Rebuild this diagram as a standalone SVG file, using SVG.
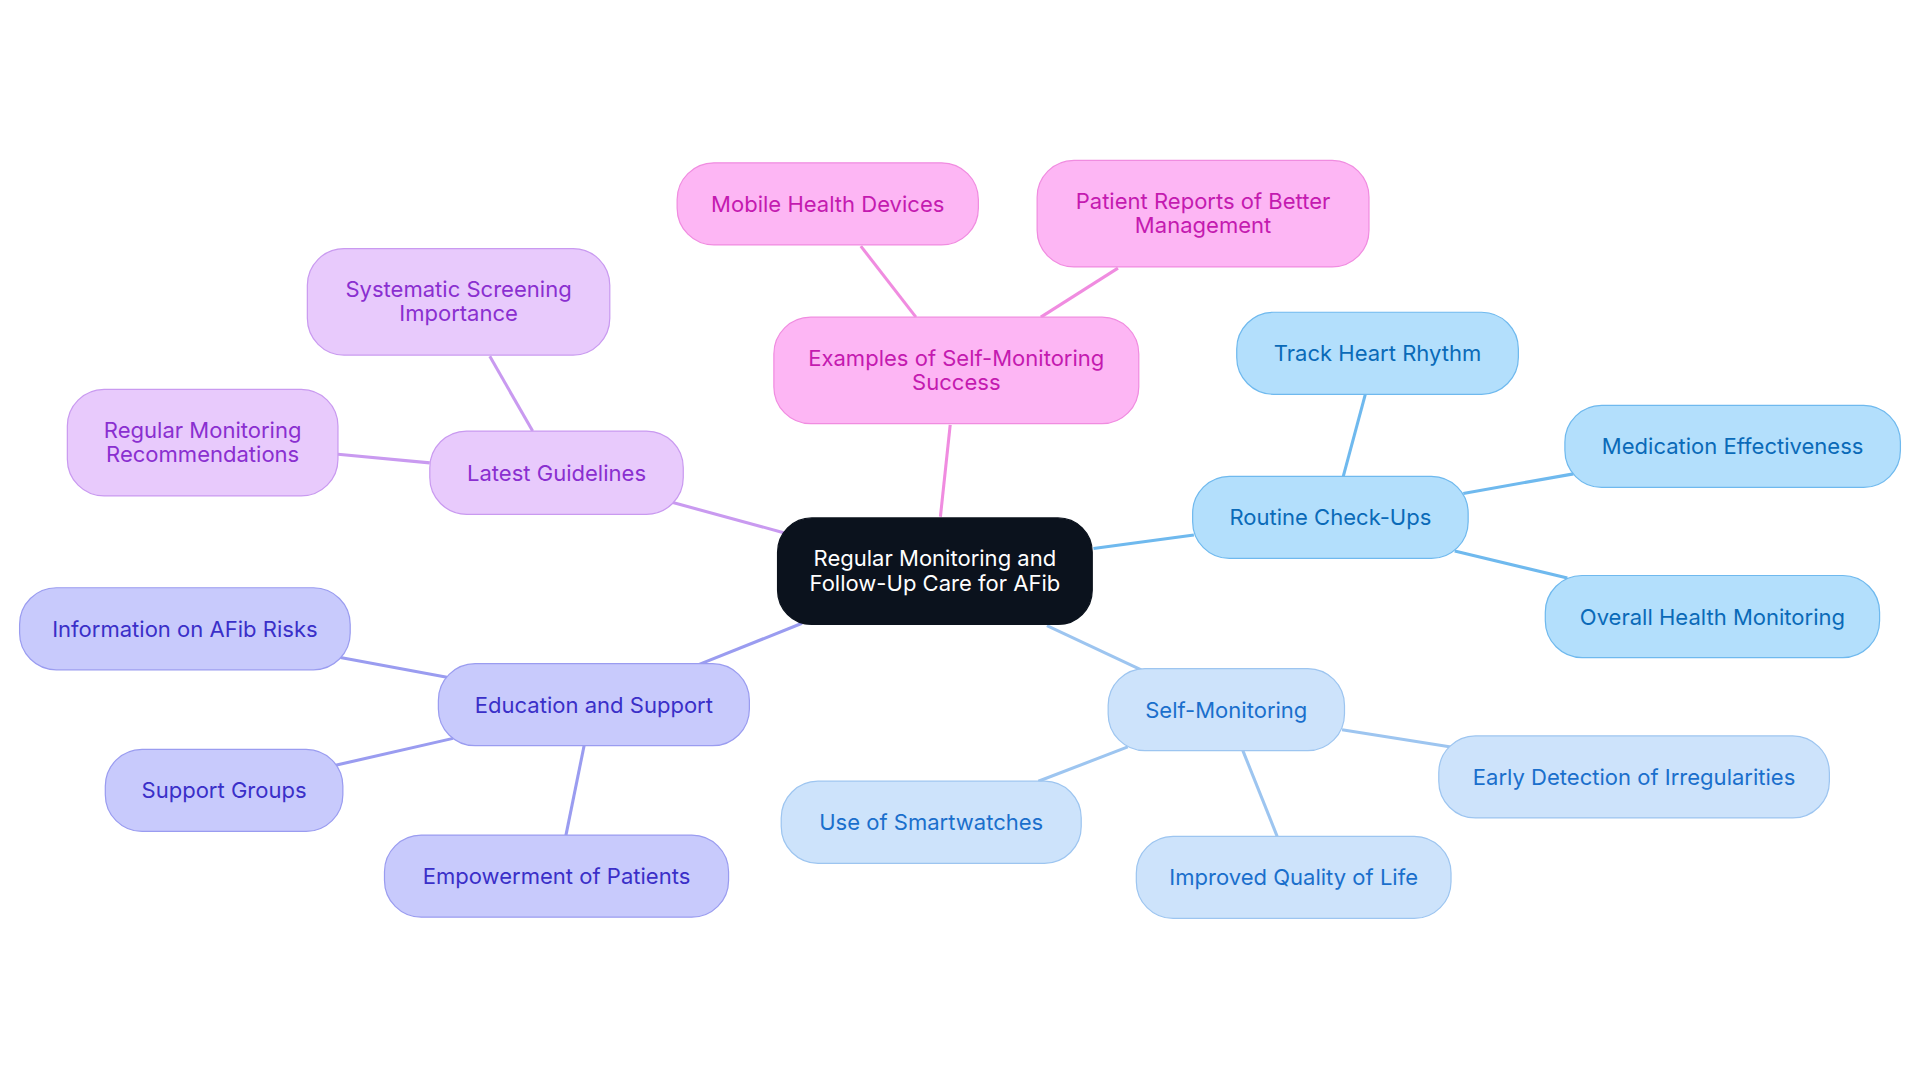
<svg xmlns="http://www.w3.org/2000/svg" width="1920" height="1083" viewBox="0 0 1920 1083">
<style>
text{font-family:Inter,"Noto Sans",sans-serif;font-size:18px;text-anchor:middle;dominant-baseline:central}
.c rect{fill:#0b121d;stroke:#0b121d}.c text{fill:#fff}
.p rect{fill:#fdb6f4;stroke:#f08ce0}.p text{fill:#c41ab0}
.v rect{fill:#e8cafc;stroke:#c99af0}.v text{fill:#8a2fd0}
.b rect{fill:#b3dffc;stroke:#6fb9ee}.b text{fill:#0a6ab8}
.l rect{fill:#cde3fb;stroke:#9dc5f0}.l text{fill:#1a6fcc}
.i rect{fill:#c8cafc;stroke:#9a9cf0}.i text{fill:#3a2fc8}
.e line{stroke-width:2.5}
</style>
<rect width="1920" height="1083" fill="#fff"/>
<g transform="scale(1.22449)">
<g id="connectors" class="e">
<line x1="768" y1="422" x2="776" y2="347" stroke="#f08ce0"/>
<line x1="748" y1="259" x2="703" y2="201" stroke="#f08ce0"/>
<line x1="850" y1="259" x2="913" y2="219" stroke="#f08ce0"/>
<line x1="640" y1="435" x2="548" y2="410" stroke="#c99af0"/>
<line x1="435" y1="352" x2="400" y2="291" stroke="#c99af0"/>
<line x1="351" y1="378" x2="276" y2="371" stroke="#c99af0"/>
<line x1="893" y1="448" x2="975" y2="437" stroke="#6fb9ee"/>
<line x1="1097" y1="389" x2="1115" y2="322" stroke="#6fb9ee"/>
<line x1="1195" y1="403" x2="1285" y2="387" stroke="#6fb9ee"/>
<line x1="1188" y1="450" x2="1280" y2="472" stroke="#6fb9ee"/>
<line x1="855" y1="511" x2="932" y2="547" stroke="#9dc5f0"/>
<line x1="921" y1="610" x2="848" y2="638" stroke="#9dc5f0"/>
<line x1="1015" y1="613" x2="1043" y2="683" stroke="#9dc5f0"/>
<line x1="1096" y1="596" x2="1185" y2="610" stroke="#9dc5f0"/>
<line x1="655" y1="509" x2="570" y2="543" stroke="#9a9cf0"/>
<line x1="365" y1="553" x2="278" y2="537" stroke="#9a9cf0"/>
<line x1="370" y1="603" x2="274" y2="625" stroke="#9a9cf0"/>
<line x1="477" y1="609" x2="462" y2="683" stroke="#9a9cf0"/>
</g>
<g id="center" class="c"><rect x="635" y="423" width="257" height="87" rx="28"/><text x="763.5" y="456">Regular Monitoring and</text><text x="763.5" y="476">Follow-Up Care for AFib</text></g>
<g id="examples" class="p"><rect x="632" y="259" width="298" height="87" rx="30"/><text x="781" y="292">Examples of Self-Monitoring</text><text x="781" y="312">Success</text></g>
<g id="mobile" class="p"><rect x="553" y="133" width="246" height="67" rx="30"/><text x="676" y="166.5">Mobile Health Devices</text></g>
<g id="reports" class="p"><rect x="847" y="131" width="271" height="87" rx="30"/><text x="982.5" y="164">Patient Reports of Better</text><text x="982.5" y="184">Management</text></g>
<g id="guidelines" class="v"><rect x="351" y="352" width="207" height="68" rx="30"/><text x="454.5" y="386">Latest Guidelines</text></g>
<g id="screening" class="v"><rect x="251" y="203" width="247" height="87" rx="30"/><text x="374.5" y="236">Systematic Screening</text><text x="374.5" y="256">Importance</text></g>
<g id="recs" class="v"><rect x="55" y="318" width="221" height="87" rx="30"/><text x="165.5" y="351">Regular Monitoring</text><text x="165.5" y="371">Recommendations</text></g>
<g id="checkups" class="b"><rect x="974" y="389" width="225" height="67" rx="30"/><text x="1086.5" y="422.5">Routine Check-Ups</text></g>
<g id="track" class="b"><rect x="1010" y="255" width="230" height="67" rx="30"/><text x="1125" y="288.5">Track Heart Rhythm</text></g>
<g id="medication" class="b"><rect x="1278" y="331" width="274" height="67" rx="30"/><text x="1415" y="364.5">Medication Effectiveness</text></g>
<g id="overall" class="b"><rect x="1262" y="470" width="273" height="67" rx="30"/><text x="1398.5" y="503.5">Overall Health Monitoring</text></g>
<g id="selfmon" class="l"><rect x="905" y="546" width="193" height="67" rx="30"/><text x="1001.5" y="579.5">Self-Monitoring</text></g>
<g id="smartwatches" class="l"><rect x="638" y="638" width="245" height="67" rx="30"/><text x="760.5" y="671.5">Use of Smartwatches</text></g>
<g id="quality" class="l"><rect x="928" y="683" width="257" height="67" rx="30"/><text x="1056.5" y="716.5">Improved Quality of Life</text></g>
<g id="early" class="l"><rect x="1175" y="601" width="319" height="67" rx="30"/><text x="1334.5" y="634.5">Early Detection of Irregularities</text></g>
<g id="education" class="i"><rect x="358" y="542" width="254" height="67" rx="30"/><text x="485" y="575.5">Education and Support</text></g>
<g id="risks" class="i"><rect x="16" y="480" width="270" height="67" rx="30"/><text x="151" y="513.5">Information on AFib Risks</text></g>
<g id="groups" class="i"><rect x="86" y="612" width="194" height="67" rx="30"/><text x="183" y="645.5">Support Groups</text></g>
<g id="empowerment" class="i"><rect x="314" y="682" width="281" height="67" rx="30"/><text x="454.5" y="715.5">Empowerment of Patients</text></g>
</g>
</svg>
